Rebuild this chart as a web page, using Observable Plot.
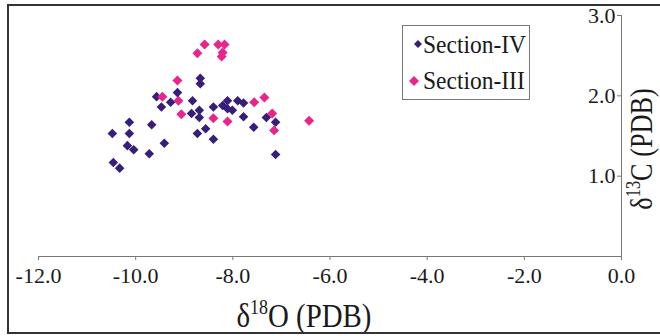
<!DOCTYPE html>
<html>
<head>
<meta charset="utf-8">
<script src="https://cdn.jsdelivr.net/npm/d3@7"></script>
<script src="https://cdn.jsdelivr.net/npm/@observablehq/plot@0.6"></script>
<style>
  html, body { margin: 0; padding: 0; background: #fff; }
  #chart { width: 660px; height: 336px; overflow: hidden; }
</style>
</head>
<body>
<div id="chart"></div>
<script>
// Section-IV (navy diamonds)
const sec4X = [-10.48,-10.46,-10.33,-10.13,-10.13,-10.17,-10.04,-9.72,-9.67,-9.41,-9.57,-9.47,-9.28,-9.14,-8.83,-8.85,-8.69,-8.69,-8.73,-8.56,-8.40,-8.40,-8.67,-8.67,-8.11,-8.21,-8.11,-8.01,-7.90,-7.78,-7.78,-7.57,-7.31,-7.12,-7.12];
const sec4Y = [1.53,1.17,1.10,1.67,1.53,1.38,1.33,1.28,1.64,1.41,1.99,1.86,1.92,2.04,1.94,1.78,1.82,1.73,1.53,1.59,1.46,1.86,2.22,2.15,1.94,1.88,1.84,1.82,1.94,1.91,1.74,1.61,1.73,1.67,1.27];
// Section-III (magenta diamonds)
const sec3X = [-8.58,-8.73,-8.30,-8.17,-8.21,-8.23,-9.14,-9.45,-9.12,-9.06,-8.40,-8.11,-7.56,-7.35,-7.19,-7.15,-6.43];
const sec3Y = [2.64,2.53,2.64,2.64,2.54,2.49,2.19,1.99,1.94,1.77,1.72,1.68,1.92,1.98,1.78,1.57,1.69];

const seriesNames = ["Section-IV", "Section-III"];
const seriesColors = ["#381e7c", "#e9258b"];
const xTicks = [-12, -10, -8, -6, -4, -2, 0];
const yTicks = [1, 2, 3];

const sec4 = sec4X.map((x, i) => ({x, y: sec4Y[i]}));
const sec3 = sec3X.map((x, i) => ({x, y: sec3Y[i]}));
const fmt = d => d.toFixed(1);
const ff = "Liberation Serif";

const svg = Plot.plot({
  width: 660,
  height: 336,
  marginLeft: 38,
  marginRight: 39,
  marginTop: 15,
  marginBottom: 80,
  x: {domain: [-12, 0]},
  y: {domain: [0, 3]},
  style: {fontFamily: ff, fontSize: "22px", color: "#1a1a1a", background: "white"},
  marks: [
    Plot.ruleY([0], {stroke: "#777", strokeWidth: 1}),
    Plot.ruleX([0], {stroke: "#777", strokeWidth: 1}),
    Plot.axisX({ticks: xTicks, tickFormat: fmt, tickSize: 4, tickPadding: 7, label: null, stroke: "#777", fill: "#1a1a1a", fontSize: 22}),
    Plot.axisY({ticks: yTicks, x: 0, anchor: "left", tickFormat: fmt, tickSize: 4, tickPadding: 2, label: null, stroke: "#777", fill: "#1a1a1a", fontSize: 22}),
    Plot.dot(sec4, {x: "x", y: "y", symbol: "diamond2", r: 4.3, fill: seriesColors[0], stroke: "none"}),
    Plot.dot(sec3, {x: "x", y: "y", symbol: "diamond2", r: 4.5, fill: seriesColors[1], stroke: "none"})
  ]
});

const s = d3.select(svg);

// x-axis title with superscript
const xt = s.append("text")
  .attr("transform", "translate(304,327) scale(0.85,1)")
  .attr("text-anchor", "middle")
  .attr("font-size", 34).attr("fill", "#1a1a1a");
xt.append("tspan").text("δ");
xt.append("tspan").attr("dy", -13).attr("font-size", 21).text("18");
xt.append("tspan").attr("dy", 13).text("O (PDB)");

// y-axis title (rotated)
const yt = s.append("text")
  .attr("transform", "translate(652,149) rotate(-90) scale(0.82,1)")
  .attr("text-anchor", "middle")
  .attr("font-size", 32).attr("fill", "#1a1a1a");
yt.append("tspan").text("δ");
yt.append("tspan").attr("dy", -12).attr("font-size", 20).text("13");
yt.append("tspan").attr("dy", 12).text("C (PDB)");

// legend
const lg = s.append("g");
lg.append("rect").attr("x", 402.5).attr("y", 25.5).attr("width", 127).attr("height", 74)
  .attr("fill", "white").attr("stroke", "#777").attr("stroke-width", 1);
const rows = [{y: 53, mx: 418, my: 44, r: 4}, {y: 89, mx: 414, my: 81, r: 5}];
rows.forEach((row, i) => {
  lg.append("path")
    .attr("d", `M${row.mx},${row.my - row.r}L${row.mx + row.r},${row.my}L${row.mx},${row.my + row.r}L${row.mx - row.r},${row.my}Z`)
    .attr("fill", seriesColors[i]);
  lg.append("text")
    .attr("transform", `translate(423,${row.y}) scale(0.94,1)`)
    .attr("text-anchor", "start")
    .attr("font-size", 25).attr("fill", "#1a1a1a")
    .text(seriesNames[i]);
});

// outer frame
s.append("rect").attr("x", 8).attr("y", 5).attr("width", 700).attr("height", 328)
  .attr("fill", "none").attr("stroke", "#333").attr("stroke-width", 2);

// force serif font on every text
s.attr("font-family", ff).style("font-family", ff);
s.selectAll("text").attr("font-family", ff).style("font-family", ff);

document.getElementById("chart").appendChild(svg);
</script>
</body>
</html>
